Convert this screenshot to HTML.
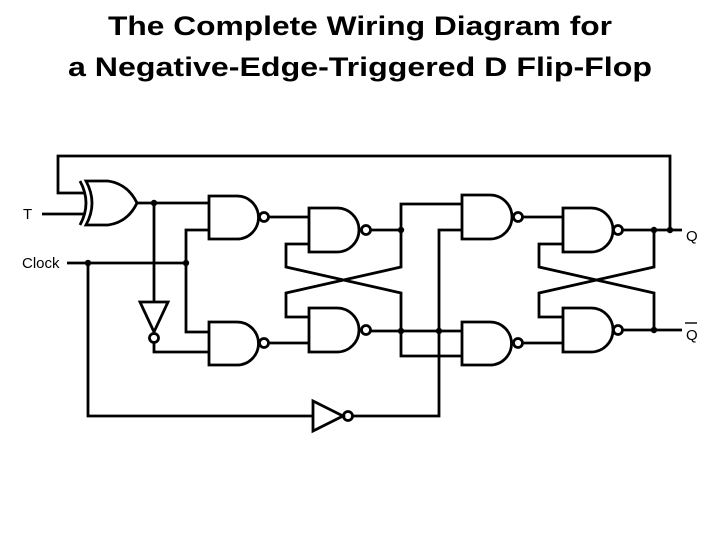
<!DOCTYPE html>
<html><head><style>body{margin:0;background:#fff}svg{display:block}</style></head><body>
<svg width="720" height="540" viewBox="0 0 720 540" xmlns="http://www.w3.org/2000/svg">
<g font-family="Liberation Sans, Arial, sans-serif" fill="#000">
<text x="360" y="35" font-size="27" font-weight="bold" text-anchor="middle" textLength="504" lengthAdjust="spacingAndGlyphs">The Complete Wiring Diagram for</text>
<text x="360" y="76" font-size="27" font-weight="bold" text-anchor="middle" textLength="584" lengthAdjust="spacingAndGlyphs">a Negative-Edge-Triggered D Flip-Flop</text>
<text x="23" y="219" font-size="15">T</text>
<text x="22" y="268" font-size="15">Clock</text>
<text x="686" y="241" font-size="15">Q</text>
<text x="686" y="340" font-size="15">Q</text>
</g>
<g fill="none" stroke="#000" stroke-width="2.8">
<line x1="685" y1="323" x2="697" y2="323" stroke-width="1.4"/>
<polyline points="670,230 670,156 58,156 58,193 84,193"/>
<path d="M80,181 Q92,203 80,225"/>
<path d="M86,181 H108 Q128,184 137,203 Q128,222 108,225 H86 Q98,203 86,181 Z"/>
<line x1="42" y1="214" x2="84" y2="214"/>
<line x1="137" y1="203" x2="209" y2="203"/>
<line x1="154" y1="203" x2="154" y2="302"/>
<path d="M140,302 H168 L154,332 Z"/>
<circle cx="154" cy="338" r="4.5"/>
<polyline points="154,342 154,352 209,352"/>
<line x1="67" y1="263" x2="186" y2="263"/>
<polyline points="209,230 186,230 186,332 209,332"/>
<polyline points="88,263 88,416 313,416"/>
<path d="M313,401 V431 L343,416 Z"/>
<circle cx="348" cy="416" r="4.5"/>
<polyline points="352,416 439,416 439,230 462,230"/>
<path d="M209,196 H237 A21.5,21.5 0 0 1 237,239 H209 Z"/>
<circle cx="264" cy="217" r="4.5"/>
<path d="M209,322 H237 A21.5,21.5 0 0 1 237,365 H209 Z"/>
<circle cx="264" cy="343" r="4.5"/>
<path d="M309,208 H337 A22,22 0 0 1 337,252 H309 Z"/>
<circle cx="366" cy="230" r="4.5"/>
<path d="M309,308 H337 A22,22 0 0 1 337,352 H309 Z"/>
<circle cx="366" cy="330" r="4.5"/>
<path d="M462,195 H490 A22,22 0 0 1 490,239 H462 Z"/>
<circle cx="518" cy="217" r="4.5"/>
<path d="M462,322 H490 A21.5,21.5 0 0 1 490,365 H462 Z"/>
<circle cx="518" cy="343" r="4.5"/>
<path d="M563,208 H591 A22,22 0 0 1 591,252 H563 Z"/>
<circle cx="618" cy="230" r="4.5"/>
<path d="M563,308 H591 A22,22 0 0 1 591,352 H563 Z"/>
<circle cx="618" cy="330" r="4.5"/>
<line x1="268" y1="217" x2="309" y2="217"/>
<line x1="268" y1="343" x2="309" y2="343"/>
<polyline points="309,244 286,244 286,267 401,293 401,330"/>
<polyline points="309,317 286,317 286,293 401,267 401,204 462,204"/>
<line x1="370" y1="230" x2="401" y2="230"/>
<line x1="370" y1="331" x2="462" y2="331"/>
<polyline points="401,330 401,356 462,356"/>
<line x1="522" y1="217" x2="563" y2="217"/>
<line x1="522" y1="343" x2="563" y2="343"/>
<polyline points="563,244 539,244 539,267 654,293 654,330"/>
<polyline points="563,317 539,317 539,293 654,267 654,230"/>
<line x1="622" y1="230" x2="682" y2="230"/>
<line x1="622" y1="330" x2="682" y2="330"/>
</g>
<g fill="#000">
<circle cx="154" cy="203" r="3.2"/>
<circle cx="88" cy="263" r="3.2"/>
<circle cx="186" cy="263" r="3.2"/>
<circle cx="401" cy="230" r="3.2"/>
<circle cx="401" cy="331" r="3.2"/>
<circle cx="439" cy="331" r="3.2"/>
<circle cx="654" cy="230" r="3.2"/>
<circle cx="670" cy="230" r="3.2"/>
<circle cx="654" cy="330" r="3.2"/>
</g>
</svg>
</body></html>
